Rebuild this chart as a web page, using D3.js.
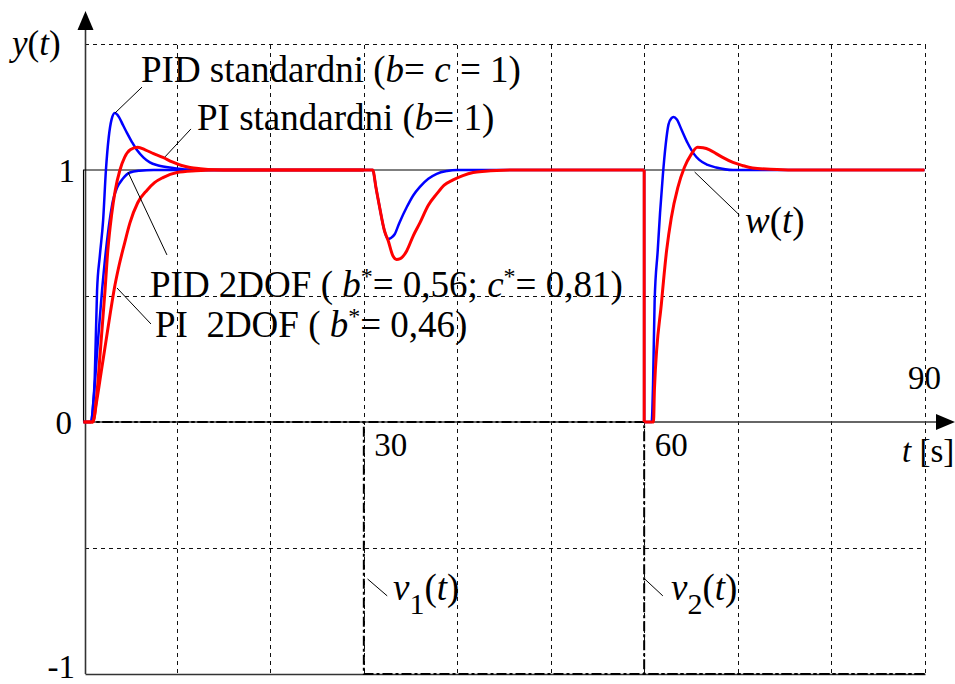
<!DOCTYPE html>
<html><head><meta charset="utf-8">
<script src="https://cdn.jsdelivr.net/npm/d3@7"></script>
<style>html,body{margin:0;padding:0;background:#fff;} svg{display:block;}</style>
</head><body><svg id="c" width="955" height="684"></svg>
<script>
// ---------------- data ----------------
const gridT = [10, 20, 30, 40, 50, 60, 70, 80, 90];
const gridY = [1.5, 0.5, -0.5];
const yTickValues = [-1, 0, 1];
const yTickLabels = ["-1", "0", "1"];
const xTickValues = [30, 60, 90];
const xTickLabels = ["30", "60", "90"];

// setpoint w(t)
const wT = [0, 0, 90];
const wY = [0, 1, 1];
// disturbances v1(t), v2(t)
const v1T = [0, 30, 30, 90];
const v1Y = [0, 0, -1, -1];
const v2T = [0, 60, 60, 90];
const v2Y = [0, 0, -1, -1];

// PID standard (b = c = 1), setpoint step at t = 0
const pidStdStep = [[0,0],[0.8,0],[1.0,0.05],[1.2,0.17],[1.45,0.52],[1.75,0.66],[2.1,0.8],[2.4,1.0],[2.7,1.13],[3.0,1.2],[3.35,1.226],[3.8,1.21],[4.2,1.18],[4.65,1.147],[5.2,1.11],[5.7,1.08],[6.4,1.05],[7.1,1.03],[8.0,1.018],[9.6,1.008],[11,1.002],[13,1.0],[30,1.0]];
// PID 2DOF (b* = 0.56, c* = 0.81)
const pid2dofStep = [[0,0],[0.8,0],[1.1,0.1],[1.5,0.3],[1.98,0.52],[2.4,0.68],[2.8,0.8],[3.16,0.88],[3.6,0.93],[4.2,0.965],[4.97,0.99],[6.0,0.997],[7.5,1.0],[30,1.0]];
// PID load disturbance v1 at t = 30
const pidLoad = [[30,1.0],[30.95,1.0],[31.3,0.93],[31.7,0.85],[32.2,0.76],[32.57,0.726],[32.9,0.73],[33.3,0.745],[33.8,0.79],[34.6,0.853],[35.3,0.9],[36.0,0.933],[36.9,0.965],[37.8,0.985],[38.9,0.996],[40,1.0],[60,1.0]];
// PID response to v2 at t = 60
const pidV2 = [[60,0],[60.8,0],[60.95,0.15],[61.12,0.48],[61.45,0.68],[61.7,0.83],[62.0,0.98],[62.3,1.1],[62.6,1.18],[62.9,1.205],[63.15,1.21],[63.5,1.2],[64.0,1.16],[64.65,1.107],[65.3,1.065],[65.9,1.04],[66.8,1.02],[67.7,1.01],[69.5,1.0],[90,1.0]];

// PI standard (b = 1)
const piStdStep = [[0,0],[1.0,0],[1.4,0.1],[1.8,0.28],[2.3,0.52],[2.6,0.68],[3.0,0.82],[3.4,0.92],[3.9,1.0],[4.4,1.05],[5.0,1.08],[5.8,1.09],[6.6,1.08],[7.5,1.065],[8.5,1.05],[9.5,1.032],[10.5,1.018],[11.4,1.01],[12.5,1.005],[14,1.001],[16,1.0],[30,1.0]];
// PI 2DOF (b* = 0.46)
const pi2dofStep = [[0,0],[1.0,0],[1.4,0.08],[1.9,0.2],[2.4,0.32],[2.9,0.44],[3.3,0.53],[3.8,0.62],[4.4,0.71],[4.97,0.79],[5.8,0.87],[6.8,0.92],[7.6,0.95],[8.5,0.97],[10,0.99],[12,0.997],[14,1.0],[30,1.0]];
// PI load disturbance v1 at t = 30
const piLoad = [[30,1.0],[30.95,1.0],[31.3,0.93],[31.7,0.85],[32.2,0.76],[32.6,0.72],[33.1,0.66],[33.5,0.645],[33.9,0.648],[34.6,0.68],[35.3,0.74],[36.0,0.79],[36.9,0.86],[37.8,0.905],[38.6,0.94],[39.5,0.96],[40.6,0.978],[41.7,0.99],[43,0.995],[44.2,0.998],[46,1.0],[60,1.0]];
// PI response to v2 at t = 60
const piV2 = [[60,0],[61.0,0],[61.1,0.13],[61.87,0.48],[62.4,0.68],[62.9,0.81],[63.6,0.93],[64.3,1.01],[65.0,1.06],[65.7,1.09],[66.3,1.088],[67.0,1.08],[67.7,1.065],[68.4,1.05],[69.5,1.03],[70.5,1.018],[71.6,1.008],[73.5,1.003],[75.9,1.0],[90,1.0]];

// leader lines [t1, y1, t2, y2]
const leaders = [
  [3.37, 1.226, 6.26, 1.329],
  [8.72, 1.052, 11.5, 1.163],
  [4.76, 0.992, 8.93, 0.663],
  [3.58, 0.532, 7.22, 0.389],
  [65.4, 0.992, 70.2, 0.821],
  [30.4, -0.623, 32.5, -0.69],
  [60.06, -0.623, 62.0, -0.69]
];

// ---------------- drawing ----------------
const svg = d3.select("#c");
const FONT = "'Liberation Serif','Times New Roman',Times,serif";
const x = d3.scaleLinear().domain([0, 90]).range([83.5, 924.5]);
const y = d3.scaleLinear().domain([-1, 1.5]).range([674, 44]);
const px = v => Math.round(x(v)) + 0.5;
const py = v => Math.round(y(v)) + 0.5;

svg.append("rect").attr("width", 955).attr("height", 684).attr("fill", "#fff");

// grid
const grid = svg.append("g").attr("stroke", "#111").attr("stroke-width", 1.1)
  .attr("stroke-dasharray", "4,4").attr("shape-rendering", "crispEdges");
grid.selectAll("line.v").data(gridT).join("line")
  .attr("x1", d => px(d)).attr("x2", d => px(d))
  .attr("y1", py(1.5)).attr("y2", py(-1));
grid.selectAll("line.h").data(gridY).join("line")
  .attr("x1", px(0)).attr("x2", px(90))
  .attr("y1", d => py(d)).attr("y2", d => py(d));

// bottom border at -1
svg.append("line").attr("x1", x(0) + 2).attr("x2", px(90)).attr("y1", py(-1)).attr("y2", py(-1))
  .attr("stroke", "#333").attr("stroke-width", 1.6);

// axes
const ax0 = x(0) + 2;
svg.append("line").attr("x1", ax0).attr("x2", ax0).attr("y1", y(-1)).attr("y2", 28)
  .attr("stroke", "#333").attr("stroke-width", 1.6);
svg.append("path").attr("d", `M${ax0},11 L${ax0 - 8},30 L${ax0 + 8},30 Z`).attr("fill", "#000");
svg.append("line").attr("x1", ax0).attr("x2", 940).attr("y1", y(0)).attr("y2", y(0))
  .attr("stroke", "#333").attr("stroke-width", 1.6);
svg.append("path").attr("d", `M955,${y(0)} L936,${y(0) - 8} L936,${y(0) + 8} Z`).attr("fill", "#000");

// y tick labels via d3 axis
const yAxis = d3.axisLeft(y).tickValues(yTickValues).tickSize(0).tickPadding(0)
  .tickFormat((d, i) => yTickLabels[i]);
const gy = svg.append("g").attr("transform", `translate(75,0)`).call(yAxis);
gy.select(".domain").remove();
gy.selectAll("text").attr("font-family", FONT).attr("font-size", 33).attr("fill", "#000")
  .attr("dy", null).attr("y", d => d === -1 ? 3 : 11);
gy.selectAll(".tick").filter(d => d === 0).select("text").attr("x", -3);

// x tick labels
const xAxis = d3.axisBottom(x).tickValues(xTickValues).tickSize(0).tickPadding(0)
  .tickFormat((d, i) => xTickLabels[i]);
const gx = svg.append("g").attr("transform", `translate(0,${y(0)})`).call(xAxis);
gx.select(".domain").remove();
gx.selectAll("text").attr("font-family", FONT).attr("font-size", 33).attr("fill", "#000")
  .attr("text-anchor", "start").attr("dy", null)
  .attr("x", d => d === 90 ? -17 : 10)
  .attr("y", d => d === 90 ? -33 : 34);

// w(t) reference line
const lin = d3.line().x(d => x(d[0])).y(d => y(d[1]));
svg.append("path").datum(d3.zip(wT, wY)).attr("d", lin)
  .attr("fill", "none").attr("stroke", "#000").attr("stroke-width", 1.1);

// disturbance lines
[[v1T, v1Y], [v2T, v2Y]].forEach(([T, Y]) => {
  svg.append("path").datum(d3.zip(T, Y)).attr("d", lin)
    .attr("fill", "none").attr("stroke", "#000").attr("stroke-width", 2)
    .attr("stroke-dasharray", "10,3,3,3");
});

// responses
const smooth = d3.line().x(d => x(d[0])).y(d => y(d[1])).curve(d3.curveMonotoneX);
function drawSeries(segs, color, w) {
  const g = svg.append("g").attr("fill", "none").attr("stroke", color).attr("stroke-width", w)
    .attr("stroke-linejoin", "round");
  segs.forEach(s => g.append("path").datum(s).attr("d", smooth));
  return g;
}
// blue PID
drawSeries([pid2dofStep], "#0000ff", 2.5);
const gb = drawSeries([pidStdStep, pidLoad, pidV2], "#0000ff", 2.5);
gb.append("path").datum([pidLoad[pidLoad.length - 1], pidV2[0]]).attr("d", lin);
// red PI
drawSeries([pi2dofStep], "#ff0000", 3);
const gr = drawSeries([piStdStep, piLoad, piV2], "#ff0000", 3);
gr.append("path").datum([piLoad[piLoad.length - 1], piV2[0]]).attr("d", lin);

// leader lines
svg.append("g").attr("stroke", "#000").attr("stroke-width", 1)
  .selectAll("line").data(leaders).join("line")
  .attr("x1", d => x(d[0])).attr("y1", d => y(d[1]))
  .attr("x2", d => x(d[2])).attr("y2", d => y(d[3]));

// text helper
function rich(tx, ty, size, parts) {
  const t = svg.append("text").attr("x", tx).attr("y", ty)
    .attr("font-family", FONT).attr("font-size", size).attr("fill", "#000")
    .attr("xml:space", "preserve").style("white-space", "pre");
  parts.forEach(p => {
    const o = p[1] || {};
    const ts = t.append("tspan").text(p[0]);
    if (o.i) ts.attr("font-style", "italic");
    if (o.s) ts.attr("font-size", o.s);
    if (o.dy) ts.attr("dy", o.dy);
  });
  return t;
}
rich(12, 55, 35, [["y", {i: 1}], ["("], ["t", {i: 1}], [")"]]);
rich(141, 82, 37, [["PID standardni ("], ["b", {i: 1}], ["= "], ["c", {i: 1}], [" = 1)"]]);
rich(197, 130, 37, [["PI standardni ("], ["b", {i: 1}], ["= 1)"]]);
rich(150, 297, 37, [["PID 2DOF ( "], ["b", {i: 1}], ["*", {s: 24, dy: -13}], ["= 0,56; ", {dy: 13}], ["c", {i: 1}], ["*", {s: 24, dy: -13}], ["= 0,81)", {dy: 13}]]);
rich(155, 337, 37, [["PI  2DOF ( "], ["b", {i: 1}], ["*", {s: 24, dy: -13}], ["= 0,46)", {dy: 13}]]);
rich(745, 233, 37, [["w", {i: 1}], ["("], ["t", {i: 1}], [")"]]);
rich(393, 600, 37, [["v", {i: 1}], ["1", {s: 30, dy: 14}], ["(", {dy: -14}], ["t", {i: 1}], [")"]]);
rich(671, 600, 37, [["v", {i: 1}], ["2", {s: 30, dy: 14}], ["(", {dy: -14}], ["t", {i: 1}], [")"]]);
rich(902, 462, 33, [["t", {i: 1}], [" [s]"]]);
</script>
</body></html>
